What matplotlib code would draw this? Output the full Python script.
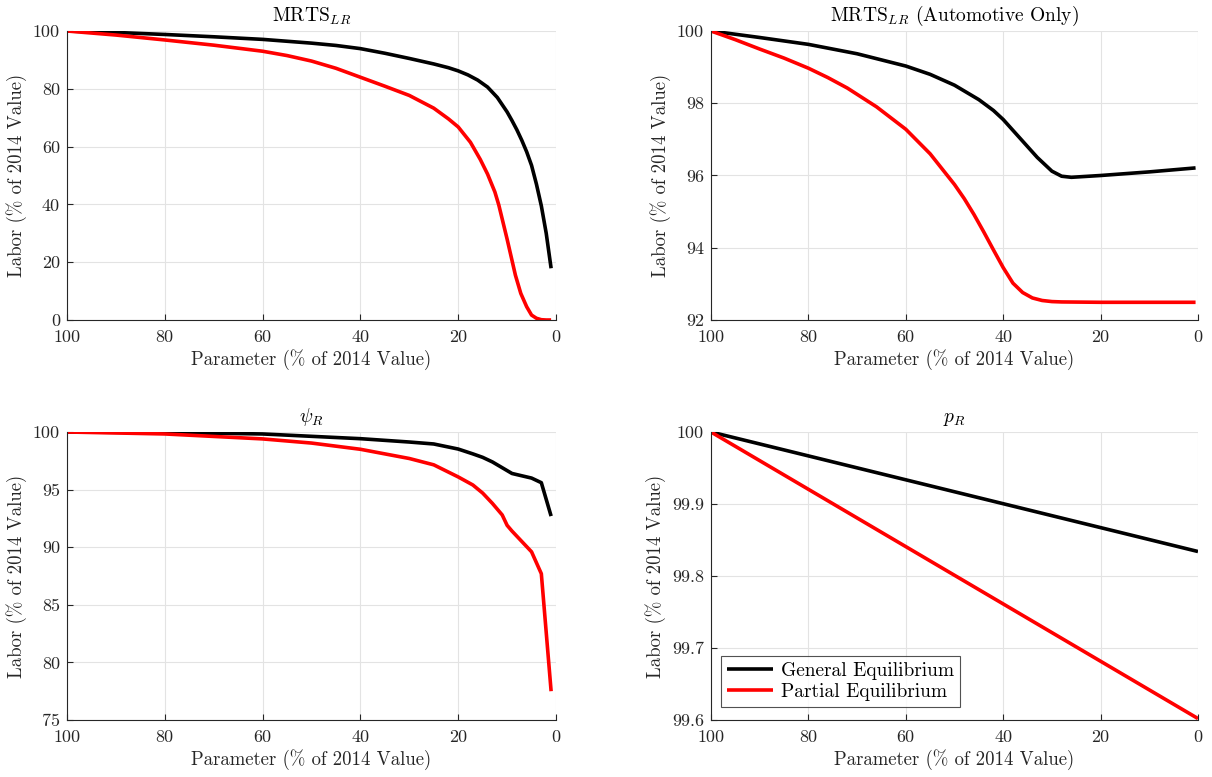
import numpy as np
import matplotlib
matplotlib.use("Agg")
import matplotlib.pyplot as plt

plt.rcParams['font.family'] = ['cmr10']
plt.rcParams['mathtext.fontset'] = 'cm'
plt.rcParams['axes.formatter.use_mathtext'] = True

# ---- data ----
mrts_x_ge = [100, 90, 80, 70, 60, 50, 45, 40, 35, 30, 25, 22, 20, 18, 16, 14, 12, 10, 9, 8, 7, 6, 5, 4, 3, 2, 1]
mrts_y_ge = [100, 99.5, 98.8, 98.0, 97.1, 95.8, 95.0, 93.9, 92.3, 90.5, 88.6, 87.3, 86.2, 84.8, 83.0, 80.6, 77.0, 72.0, 69.0, 65.8, 62.2, 58.2, 53.5, 47.0, 39.5, 30.0, 17.9]
mrts_x_pe = [100, 90, 80, 70, 60, 55, 50, 45, 40, 35, 30, 25, 22, 20, 17.5, 15.5, 14, 12.5, 11.7, 10, 8.3, 7.2, 6, 5, 4, 3, 2, 1]
mrts_y_pe = [100, 98.6, 96.9, 95.1, 93.0, 91.5, 89.6, 87.1, 84.0, 80.9, 77.7, 73.3, 69.6, 66.8, 61.5, 55.6, 50.5, 44.3, 39.8, 28.0, 15.5, 9.2, 4.6, 1.7, 0.6, 0.1, 0.0, 0.0]

auto_x_ge = [100, 90, 80, 70, 60, 55, 50, 45, 42, 40, 36, 33, 30, 28, 26, 20, 10, 0.5]
auto_y_ge = [100, 99.82, 99.63, 99.37, 99.03, 98.8, 98.5, 98.1, 97.8, 97.55, 96.95, 96.5, 96.12, 95.98, 95.95, 96.0, 96.1, 96.21]
auto_x_pe = [100, 95, 90, 85, 80, 76, 72, 66, 60, 55, 50, 48, 46, 44, 42, 40, 38, 36, 34, 32, 30, 28, 20, 10, 0.5]
auto_y_pe = [100, 99.76, 99.5, 99.25, 98.97, 98.71, 98.42, 97.9, 97.28, 96.6, 95.75, 95.36, 94.92, 94.44, 93.94, 93.45, 93.02, 92.76, 92.61, 92.54, 92.51, 92.50, 92.49, 92.49, 92.49]

psi_x_ge = [100, 80, 60, 40, 30, 25, 20, 17, 15, 13, 11, 9, 7, 5, 3, 1]
psi_y_ge = [100, 99.95, 99.83, 99.42, 99.13, 98.96, 98.52, 98.1, 97.8, 97.4, 96.9, 96.4, 96.2, 96.0, 95.6, 92.7]
psi_x_pe = [100, 80, 60, 50, 40, 30, 25, 20, 17, 15, 13, 11, 10, 9, 7, 5, 3, 1]
psi_y_pe = [100, 99.83, 99.4, 99.04, 98.5, 97.7, 97.15, 96.1, 95.4, 94.7, 93.8, 92.8, 91.9, 91.4, 90.5, 89.6, 87.7, 77.5]

p_x = [100, 0]
p_y_ge = [100, 99.834]
p_y_pe = [100, 99.602]

titles = [r'MRTS$_{LR}$', r'MRTS$_{LR}$ (Automotive Only)', r'$\psi_R$', r'$p_R$']
ylims = [(0, 100), (92, 100), (75, 100), (99.6, 100)]
yticks = [[0, 20, 40, 60, 80, 100], [92, 94, 96, 98, 100], [75, 80, 85, 90, 95, 100],
          [99.6, 99.7, 99.8, 99.9, 100]]
ytick_labels = [['0', '20', '40', '60', '80', '100'], ['92', '94', '96', '98', '100'],
                ['75', '80', '85', '90', '95', '100'], ['99.6', '99.7', '99.8', '99.9', '100']]
xticks = [0, 20, 40, 60, 80, 100]
series = [
    (mrts_x_ge, mrts_y_ge, mrts_x_pe, mrts_y_pe),
    (auto_x_ge, auto_y_ge, auto_x_pe, auto_y_pe),
    (psi_x_ge, psi_y_ge, psi_x_pe, psi_y_pe),
    (p_x, p_y_ge, p_x, p_y_pe),
]
legend_labels = ['General Equilibrium', 'Partial Equilibrium']

fig = plt.figure(figsize=(12.12, 7.77), dpi=100)
W, H = 1212, 777
boxes = [(67, 31, 556, 320), (711, 31, 1198, 320), (67, 432, 556, 720), (711, 432, 1198, 720)]
axc = '#262626'
for i, (l, t, r, b) in enumerate(boxes):
    ax = fig.add_axes([l / W, 1 - b / H, (r - l) / W, (b - t) / H])
    xg, yg, xp, yp = series[i]
    lg, = ax.plot(xg, yg, color='black', lw=2.6, solid_joinstyle='round', solid_capstyle='butt')
    lp, = ax.plot(xp, yp, color='red', lw=2.6, solid_joinstyle='round', solid_capstyle='butt')
    ax.set_xlim(100, 0)
    ax.set_ylim(*ylims[i])
    ax.set_xticks(xticks)
    ax.set_xticklabels([str(v) for v in xticks])
    ax.set_yticks(yticks[i])
    ax.set_yticklabels(ytick_labels[i])
    ax.grid(True, color='#e3e3e3', lw=0.8)
    ax.set_axisbelow(True)
    for s in ['top', 'right']:
        ax.spines[s].set_visible(False)
    for s in ['left', 'bottom']:
        ax.spines[s].set_color(axc)
        ax.spines[s].set_linewidth(0.8)
    ax.tick_params(direction='in', length=4, width=0.8, colors=axc, labelsize=13)
    ax.tick_params(axis='x', pad=7)
    ax.tick_params(axis='y', pad=5)
    ax.set_xlabel('Parameter (% of 2014 Value)', fontsize=13.5, color=axc, labelpad=3)
    ax.set_ylabel('Labor (% of 2014 Value)', fontsize=13.5, color=axc, labelpad=4)
    ax.set_title(titles[i], fontsize=14, color='black', pad=7)
    if i == 3:
        leg = ax.legend([lg, lp], legend_labels, loc='lower left', bbox_to_anchor=(0.02, 0.045),
                        fontsize=14, frameon=True, fancybox=False, edgecolor=axc,
                        handlelength=2.4, borderpad=0.3, labelspacing=0.15, handletextpad=0.4,
                        borderaxespad=0.0)
        leg.get_frame().set_linewidth(0.8)

fig.savefig('out.png', dpi=100)
